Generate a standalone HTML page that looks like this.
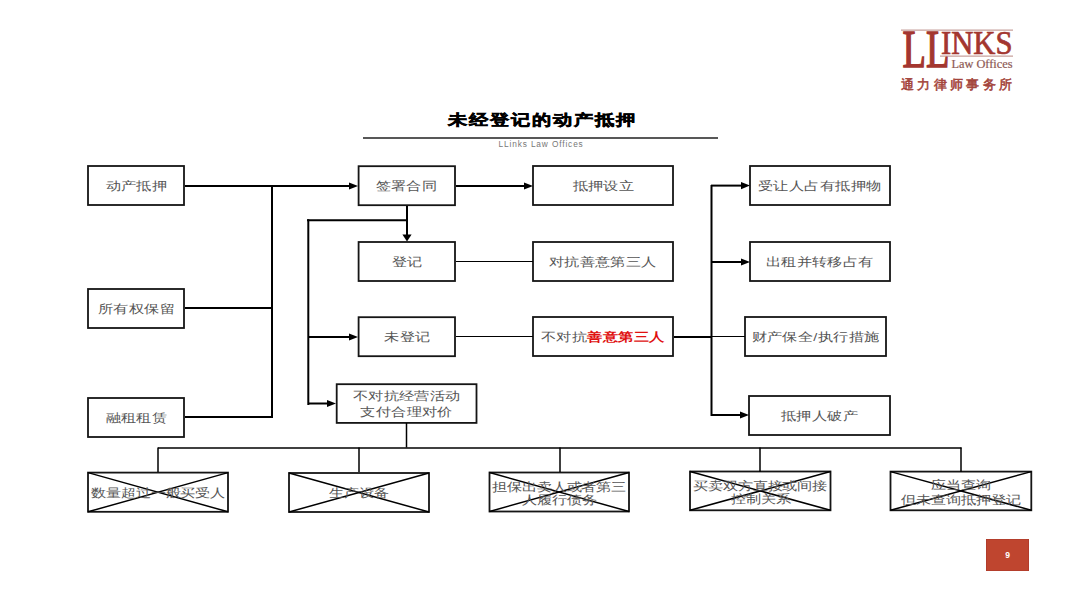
<!DOCTYPE html><html><head><meta charset="utf-8"><style>
*{margin:0;padding:0}
html,body{width:1080px;height:608px;overflow:hidden;background:#fff}
body{position:relative;font-family:"Liberation Sans",sans-serif}
svg{position:absolute;left:0;top:0}
.t{position:absolute;display:flex;flex-direction:column;align-items:center;justify-content:center;color:#555;font-size:11.5px;letter-spacing:0.2px;line-height:16px;white-space:nowrap;padding-top:0.5px;box-sizing:border-box}
.t span{display:block;margin-right:-0.2px;transform:scaleX(1.265)}
.bt{line-height:15.3px;font-size:11.5px;letter-spacing:-0.2px;padding-top:2px}
.bt span{margin-right:0.2px}
.t b{color:#e01010;font-weight:bold}
.title{position:absolute;left:447.5px;top:109px;font-size:14.5px;font-weight:bold;letter-spacing:1.4px;color:#000;white-space:nowrap;line-height:22px;transform:scaleX(1.28);transform-origin:0 0;-webkit-text-stroke:0.5px #000}
.sub{position:absolute;left:498.5px;top:139px;font-size:8.3px;letter-spacing:0.87px;color:#777;white-space:nowrap;line-height:10px}
.pg{position:absolute;left:986px;top:539px;width:43px;height:31.5px;background:#bf452f;color:#fff;font-size:8.5px;font-weight:bold;text-align:center;line-height:32px;box-shadow:inset 0 0 0 0.6px #a9382a}
</style></head><body>

<svg width="1080" height="608" viewBox="0 0 1080 608"><rect x="88" y="166" width="96" height="39" fill="none" stroke="#151515" stroke-width="1.8"/><rect x="88" y="289" width="96" height="39" fill="none" stroke="#151515" stroke-width="1.8"/><rect x="88" y="398" width="96" height="39" fill="none" stroke="#151515" stroke-width="1.8"/><rect x="358.6" y="166.2" width="96.4" height="39" fill="none" stroke="#151515" stroke-width="1.8"/><rect x="358.6" y="242" width="96.4" height="39" fill="none" stroke="#151515" stroke-width="1.8"/><rect x="358.6" y="317.2" width="96.4" height="39" fill="none" stroke="#151515" stroke-width="1.8"/><rect x="336.7" y="384.2" width="139.8" height="38.7" fill="none" stroke="#151515" stroke-width="1.8"/><rect x="533" y="166" width="140" height="39" fill="none" stroke="#151515" stroke-width="1.8"/><rect x="533" y="242" width="140" height="39" fill="none" stroke="#151515" stroke-width="1.8"/><rect x="533" y="317" width="140" height="39" fill="none" stroke="#151515" stroke-width="1.8"/><rect x="750" y="166" width="140" height="39" fill="none" stroke="#151515" stroke-width="1.8"/><rect x="750" y="242" width="140" height="39" fill="none" stroke="#151515" stroke-width="1.8"/><rect x="745" y="317" width="141" height="39" fill="none" stroke="#151515" stroke-width="1.8"/><rect x="749" y="396" width="141" height="39" fill="none" stroke="#151515" stroke-width="1.8"/><rect x="88" y="472.6" width="140" height="39.2" fill="none" stroke="#151515" stroke-width="1.8"/><rect x="289" y="473" width="140" height="39" fill="none" stroke="#151515" stroke-width="1.8"/><rect x="489.5" y="472.5" width="139.5" height="39" fill="none" stroke="#151515" stroke-width="1.8"/><rect x="690" y="471.5" width="140.5" height="38.8" fill="none" stroke="#151515" stroke-width="1.8"/><rect x="890.5" y="471.6" width="140.8" height="38.7" fill="none" stroke="#151515" stroke-width="1.8"/><line x1="88" y1="472.6" x2="228" y2="511.8" stroke="#000" stroke-width="1.5"/><line x1="88" y1="511.8" x2="228" y2="472.6" stroke="#000" stroke-width="1.5"/><line x1="289" y1="473" x2="429" y2="512" stroke="#000" stroke-width="1.5"/><line x1="289" y1="512" x2="429" y2="473" stroke="#000" stroke-width="1.5"/><line x1="489.5" y1="472.5" x2="629.0" y2="511.5" stroke="#000" stroke-width="1.5"/><line x1="489.5" y1="511.5" x2="629.0" y2="472.5" stroke="#000" stroke-width="1.5"/><line x1="690" y1="471.5" x2="830.5" y2="510.3" stroke="#000" stroke-width="1.5"/><line x1="690" y1="510.3" x2="830.5" y2="471.5" stroke="#000" stroke-width="1.5"/><line x1="890.5" y1="471.6" x2="1031.3" y2="510.3" stroke="#000" stroke-width="1.5"/><line x1="890.5" y1="510.3" x2="1031.3" y2="471.6" stroke="#000" stroke-width="1.5"/><line x1="185" y1="186" x2="351" y2="186" stroke="#000" stroke-width="2"/><polygon points="358,186 349,182.4 349,189.6" fill="#000"/><line x1="185" y1="308" x2="272" y2="308" stroke="#000" stroke-width="2"/><line x1="185" y1="417" x2="272" y2="417" stroke="#000" stroke-width="2"/><line x1="272" y1="185" x2="272" y2="418" stroke="#000" stroke-width="2"/><line x1="456" y1="186" x2="526" y2="186" stroke="#000" stroke-width="2"/><polygon points="533,186 524,182.4 524,189.6" fill="#000"/><line x1="407" y1="206" x2="407" y2="236" stroke="#000" stroke-width="2"/><polygon points="407,241.5 402.4,234.5 411.6,234.5" fill="#000"/><line x1="307" y1="220.3" x2="408" y2="220.3" stroke="#000" stroke-width="2"/><line x1="308.3" y1="219.3" x2="308.3" y2="405" stroke="#000" stroke-width="2"/><line x1="308" y1="337" x2="351" y2="337" stroke="#000" stroke-width="2"/><polygon points="358,337 349,333.4 349,340.6" fill="#000"/><line x1="308" y1="403.5" x2="329" y2="403.5" stroke="#000" stroke-width="2"/><polygon points="336,403.5 327,399.9 327,407.1" fill="#000"/><line x1="456" y1="261.5" x2="533" y2="261.5" stroke="#000" stroke-width="1"/><line x1="456" y1="336.5" x2="533" y2="336.5" stroke="#000" stroke-width="1"/><line x1="674" y1="337" x2="712" y2="337" stroke="#000" stroke-width="2"/><line x1="712" y1="336.5" x2="745" y2="336.5" stroke="#000" stroke-width="1"/><line x1="711.5" y1="185" x2="711.5" y2="416" stroke="#000" stroke-width="2"/><line x1="711" y1="185.6" x2="743" y2="185.6" stroke="#000" stroke-width="2"/><polygon points="750,185.6 741,182.0 741,189.2" fill="#000"/><line x1="711" y1="262" x2="743" y2="262" stroke="#000" stroke-width="2"/><polygon points="750,262 741,258.4 741,265.6" fill="#000"/><line x1="711" y1="415" x2="742" y2="415" stroke="#000" stroke-width="2"/><polygon points="749,415 740,411.4 740,418.6" fill="#000"/><line x1="406.5" y1="423" x2="406.5" y2="447.5" stroke="#000" stroke-width="1.5"/><line x1="158" y1="448" x2="961.5" y2="448" stroke="#000" stroke-width="1.5"/><line x1="158" y1="447.5" x2="158" y2="472" stroke="#000" stroke-width="1.5"/><line x1="359" y1="447.5" x2="359" y2="472" stroke="#000" stroke-width="1.5"/><line x1="560" y1="447.5" x2="560" y2="472" stroke="#000" stroke-width="1.5"/><line x1="760" y1="447.5" x2="760" y2="472" stroke="#000" stroke-width="1.5"/><line x1="961" y1="447.5" x2="961" y2="472" stroke="#000" stroke-width="1.5"/><line x1="363" y1="137.9" x2="718" y2="137.9" stroke="#585858" stroke-width="2"/></svg>
<div class="t" style="left:88px;top:166px;width:96px;height:39px;"><span>动产抵押</span></div>
<div class="t" style="left:88px;top:289px;width:96px;height:39px;"><span>所有权保留</span></div>
<div class="t" style="left:88px;top:398px;width:96px;height:39px;"><span>融租租赁</span></div>
<div class="t" style="left:358.6px;top:166.2px;width:96.4px;height:39px;"><span>签署合同</span></div>
<div class="t" style="left:358.6px;top:242px;width:96.4px;height:39px;"><span>登记</span></div>
<div class="t" style="left:358.6px;top:317.2px;width:96.4px;height:39px;"><span>未登记</span></div>
<div class="t" style="left:336.7px;top:384.2px;width:139.8px;height:38.7px;"><span>不对抗经营活动</span><span>支付合理对价</span></div>
<div class="t" style="left:533px;top:166px;width:140px;height:39px;"><span>抵押设立</span></div>
<div class="t" style="left:533px;top:242px;width:140px;height:39px;"><span>对抗善意第三人</span></div>
<div class="t" style="left:533px;top:317px;width:140px;height:39px;"><span>不对抗<b>善意第三人</b></span></div>
<div class="t" style="left:750px;top:166px;width:140px;height:39px;"><span>受让人占有抵押物</span></div>
<div class="t" style="left:750px;top:242px;width:140px;height:39px;"><span>出租并转移占有</span></div>
<div class="t" style="left:745px;top:317px;width:141px;height:39px;"><span>财产保全/执行措施</span></div>
<div class="t" style="left:749px;top:396px;width:141px;height:39px;"><span>抵押人破产</span></div>
<div class="t bt" style="left:88px;top:472.6px;width:140px;height:39.2px;"><span>数量超过一般买受人</span></div>
<div class="t bt" style="left:289px;top:473px;width:140px;height:39px;"><span>生产设备</span></div>
<div class="t bt" style="left:489.5px;top:472.5px;width:139.5px;height:39px;line-height:13.2px;padding-top:3.5px"><span>担保出卖人或者第三</span><span>人履行债务</span></div>
<div class="t bt" style="left:690px;top:471.5px;width:140.5px;height:38.8px;line-height:13.5px;padding-top:4.5px"><span>买卖双方直接或间接</span><span>控制关系</span></div>
<div class="t bt" style="left:890.5px;top:471.6px;width:140.8px;height:38.7px;line-height:15.4px;padding-top:4px"><span>应当查询</span><span>但未查询抵押登记</span></div>
<div class="title">未经登记的动产抵押</div>
<div class="sub">LLinks Law Offices</div>
<div class="pg">9</div>
<svg width="1080" height="608" viewBox="0 0 1080 608" style="position:absolute;left:0;top:0">
<g fill="#a3362f" font-family="Liberation Serif, serif">
<rect x="901" y="29.6" width="112" height="1" fill="#b98a84"/>
<text x="902.5" y="67.3" font-size="53" textLength="47" lengthAdjust="spacingAndGlyphs" stroke="#a3362f" stroke-width="1.4">LL</text>
<text x="941" y="54.3" font-size="33" textLength="71.5" lengthAdjust="spacingAndGlyphs" stroke="#a3362f" stroke-width="0.7">INKS</text>
<rect x="940" y="55.6" width="73" height="1" fill="#b98a84"/>
<text x="951.5" y="67.6" font-size="11.5" textLength="61" lengthAdjust="spacingAndGlyphs" fill="#8e5a55" stroke="#8e5a55" stroke-width="0.2">Law Offices</text>
<text x="901" y="88.5" font-size="12.5" textLength="111" lengthAdjust="spacing" fill="#a3433a" stroke="#a3433a" stroke-width="0.55">通力律师事务所</text>
</g></svg>
</body></html>
